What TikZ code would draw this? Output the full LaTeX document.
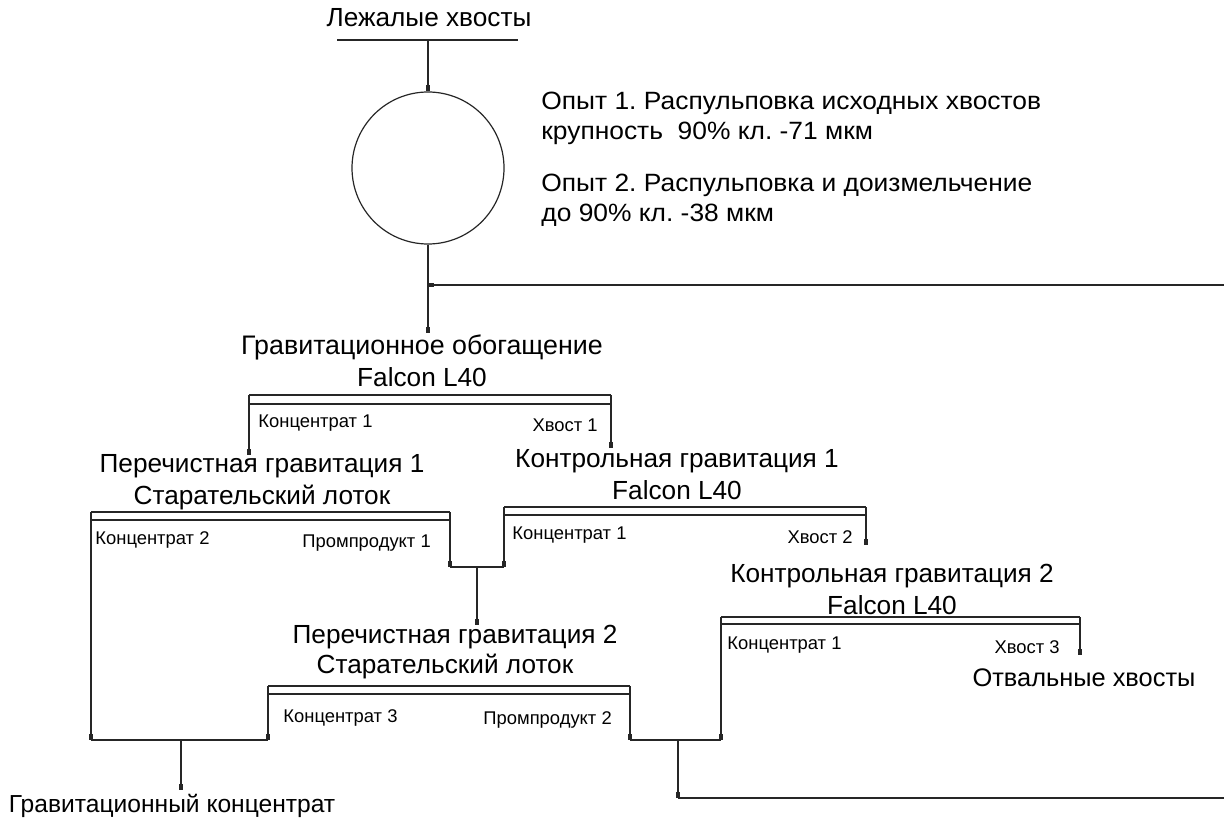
\documentclass[tikz,border=0pt]{standalone}
\usepackage{fontspec}
\setmainfont{Liberation Sans}
\newfontfamily\notefont[FakeStretch=1.055]{Liberation Sans}
\usetikzlibrary{arrows.meta}
\frenchspacing
\begin{document}
\begin{tikzpicture}[x=0.5pt,y=-0.5pt,
  ln/.style={line width=0.6pt,draw=black!85},
  tip/.style={ln,-{Rectangle[length=3pt,width=1.8pt]}},
  big/.style={font=\fontsize{13.1}{15}\selectfont,inner sep=0pt},
  note/.style={font=\notefont\fontsize{12.5}{14}\selectfont,inner sep=0pt,anchor=west},
  lbl/.style={font=\fontsize{9.2}{11}\selectfont,inner sep=0pt}]
\useasboundingbox (0,0) rectangle (1224,823);
% source
\node[big] (src) at (429,18) {Лежалые хвосты};
\coordinate (srcL) at (337,40); \coordinate (srcR) at (518,40); \coordinate (srcM) at (428,40);
\draw[ln] (srcL) -- (srcR);
\node[ln,circle,minimum size=152pt*0.5,inner sep=0pt] (mill) at (428,168) {};
\draw[tip] (srcM) -- (mill.north);
\node[note] (n1) at (541,103) {Опыт 1. Распульповка исходных хвостов};
\node[note] (n2) at (541,133) {крупность \ 90\% кл. -71 мкм};
\node[note] (n3) at (541,185) {Опыт 2. Распульповка и доизмельчение};
\node[note] (n4) at (541,215) {до 90\% кл. -38 мкм};
% main gravity
\node[big,font=\fontsize{13.4}{15}\selectfont] (g1) at (422,347) {Гравитационное обогащение};
\node[big] (g1b) at (422,377) {Falcon L40};
\coordinate (g1in) at (428,333);
\draw[tip] (mill.south) -- (g1in);
\coordinate (rec1) at (1224,285); \coordinate (rec2) at (428,285);
\draw[tip] (rec1) -- (rec2);
% bar 1
\coordinate (b1l) at (249,395); \coordinate (b1r) at (611,395);
\draw[ln] (b1l) -- (b1r) (249,404) -- (611,404);
\coordinate (b1le) at (249,455); \coordinate (b1re) at (611,448);
\draw[tip] (b1l) -- (b1le);
\draw[tip] (b1r) -- (b1re);
\node[lbl,anchor=west] (k1) at (258,423) {Концентрат 1};
\node[lbl,anchor=east] (t1) at (598,425) {Хвост 1};
% cleaner 1
\node[big] (p1) at (262,466) {Перечистная гравитация 1};
\node[big] (p1b) at (262,497) {Старательский лоток};
% control 1
\node[big] (c1) at (677,461) {Контрольная гравитация 1};
\node[big] (c1b) at (677,490) {Falcon L40};
% bar 2
\coordinate (b2l) at (91,512); \coordinate (b2r) at (450,512);
\draw[ln] (b2l) -- (b2r) (91,520) -- (450,520);
\coordinate (b2le) at (91,740); \coordinate (b2re) at (450,567);
\draw[tip] (b2l) -- (b2le);
\draw[tip] (b2r) -- (b2re);
\node[lbl,anchor=west] (k2) at (95,540) {Концентрат 2};
\node[lbl,anchor=west] (pp1) at (302,543) {Промпродукт 1};
% bar 3
\coordinate (b3l) at (504,507); \coordinate (b3r) at (866,507);
\draw[ln] (b3l) -- (b3r) (504,515) -- (866,515);
\coordinate (b3le) at (504,567); \coordinate (b3re) at (866,545);
\draw[tip] (b3l) -- (b3le);
\draw[tip] (b3r) -- (b3re);
\node[lbl,anchor=west] (k3) at (512,535) {Концентрат 1};
\node[lbl,anchor=east] (t2) at (853,537) {Хвост 2};
% junction 1
\coordinate (j1) at (477,567); \coordinate (j1e) at (477,625);
\draw[ln] (b2re) -- (b3le);
\draw[tip] (j1) -- (j1e);
% cleaner 2
\node[big] (p2) at (455,637) {Перечистная гравитация 2};
\node[big] (p2b) at (445,666) {Старательский лоток};
% control 2
\node[big] (c2) at (892,576) {Контрольная гравитация 2};
\node[big] (c2b) at (892,605) {Falcon L40};
% bar 4
\coordinate (b4l) at (721,617); \coordinate (b4r) at (1080,617);
\draw[ln] (b4l) -- (b4r) (721,624) -- (1080,624);
\coordinate (b4le) at (721,740); \coordinate (b4re) at (1080,655);
\draw[tip] (b4l) -- (b4le);
\draw[tip] (b4r) -- (b4re);
\node[lbl,anchor=west] (k4) at (727,645) {Концентрат 1};
\node[lbl,anchor=east] (t3) at (1060,647) {Хвост 3};
\node[big,font=\fontsize{12.7}{15}\selectfont] (waste) at (1084,678) {Отвальные хвосты};
% bar 5
\coordinate (b5l) at (268,686); \coordinate (b5r) at (630,686);
\draw[ln] (b5l) -- (b5r) (268,694) -- (630,694);
\coordinate (b5le) at (268,740); \coordinate (b5re) at (630,740);
\draw[tip] (b5l) -- (b5le);
\draw[tip] (b5r) -- (b5re);
\node[lbl,anchor=west] (k5) at (283,718) {Концентрат 3};
\node[lbl,anchor=west] (pp2) at (483,720) {Промпродукт 2};
% final concentrate
\draw[ln] (b2le) -- (b5le);
\coordinate (j2) at (181,740); \coordinate (j2e) at (181,790);
\draw[tip] (j2) -- (j2e);
\node[big,font=\fontsize{12.3}{15}\selectfont] (conc) at (172,806) {Гравитационный концентрат};
% recycle
\draw[ln] (b5re) -- (b4le);
\coordinate (j3) at (678,740); \coordinate (j3e) at (678,798); \coordinate (rec0) at (1224,798);
\draw[tip] (j3) -- (j3e);
\draw[ln] (j3e) -- (rec0);
\end{tikzpicture}
\end{document}
